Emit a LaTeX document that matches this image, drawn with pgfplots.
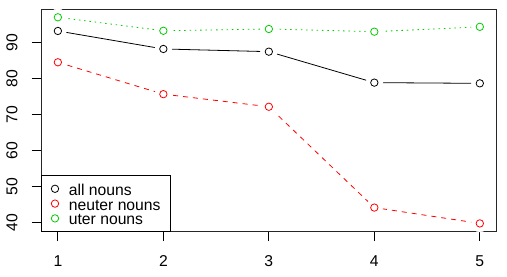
\documentclass[border=0pt]{standalone}
\usepackage{pgfplots}
\pgfplotsset{compat=1.18}
\usepackage{fontspec}
\setmainfont{Liberation Sans}
\definecolor{rgreen}{RGB}{0,205,0}
\definecolor{rred}{RGB}{255,0,0}
\begin{document}
\begin{tikzpicture}
\begin{axis}[
  at={(0,0)}, anchor=south west,
  scale only axis, width=455.7bp, height=222.7bp,
  xmin=0.84, xmax=5.16, ymin=37.5, ymax=99.35,
  xtick={1,2,3,4,5}, ytick={40,50,60,70,80,90},
  xtick pos=left, ytick pos=left,
  tick align=outside, major tick length=9.4bp,
  tick style={black, line width=0.8bp},
  axis line style={line width=0.9bp, black!85},
  axis on top,
  font=\fontsize{15.7bp}{18bp}\selectfont,
  /pgf/number format/assume math mode=true,
  xticklabel style={anchor=north, inner sep=0pt, text height=11.2bp, text depth=0pt, yshift=-14bp},
  yticklabel style={rotate=90, anchor=south, inner sep=0pt, text height=11.2bp, text depth=0pt, yshift=14bp},
  legend style={at={(0,0)}, anchor=south west, draw=black, line width=0.8bp,
    inner xsep=9.5bp, inner ysep=5.5bp, fill=white,
    font=\fontsize{15.7bp}{18bp}\selectfont,
    nodes={inner sep=0pt, text height=14bp, text depth=0.8bp},
    /tikz/every odd column/.append style={column sep=9.8bp}},
  legend cell align=left,
  legend image code/.code={\draw[#1, solid, line width=0.8bp] (0bp,0bp) circle (3.7bp);},
]
% lines
\addplot[forget plot, black, line width=0.8bp] coordinates {(1,93.25) (2,88.25) (3,87.5) (4,78.9) (5,78.7)};
\addplot[forget plot, rred, line width=0.8bp, dash pattern=on 5bp off 5bp] coordinates {(1,84.55) (2,75.7) (3,72.2) (4,44.2) (5,39.8)};
\addplot[forget plot, rgreen, line width=0.8bp, dash pattern=on 1.5bp off 3.8bp] coordinates {(1,97.05) (2,93.3) (3,93.8) (4,93.05) (5,94.4)};
% gaps
\addplot[forget plot, only marks, mark=*, mark size=8.5bp, white, mark options={draw=white, fill=white}] coordinates {(1,93.25) (2,88.25) (3,87.5) (4,78.9) (5,78.7)};
\addplot[forget plot, only marks, mark=*, mark size=8.5bp, white, mark options={draw=white, fill=white}] coordinates {(1,84.55) (2,75.7) (3,72.2) (4,44.2) (5,39.8)};
\addplot[forget plot, only marks, mark=*, mark size=8.5bp, white, mark options={draw=white, fill=white}] coordinates {(1,97.05) (2,93.3) (3,93.8) (4,93.05) (5,94.4)};
% markers
\addplot[only marks, black, mark=o, mark size=3.7bp, mark options={line width=0.8bp}] coordinates {(1,93.25) (2,88.25) (3,87.5) (4,78.9) (5,78.7)};
\addlegendentry{all nouns}
\addplot[only marks, rred, mark=o, mark size=3.7bp, mark options={line width=0.8bp}] coordinates {(1,84.55) (2,75.7) (3,72.2) (4,44.2) (5,39.8)};
\addlegendentry{neuter nouns}
\addplot[only marks, rgreen, mark=o, mark size=3.7bp, mark options={line width=0.8bp}] coordinates {(1,97.05) (2,93.3) (3,93.8) (4,93.05) (5,94.4)};
\addlegendentry{uter nouns}
\end{axis}
\pgfresetboundingbox
\useasboundingbox (-41bp,-45.3bp) rectangle (466bp,231.7bp);
\end{tikzpicture}
\end{document}
